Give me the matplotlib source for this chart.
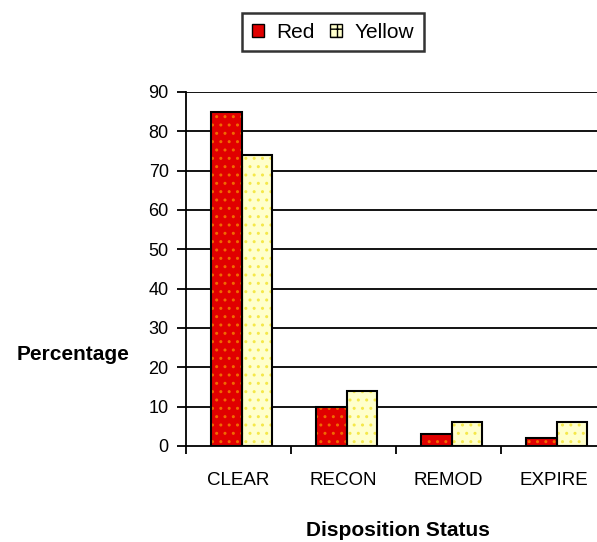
import matplotlib
matplotlib.use("Agg")
import matplotlib.pyplot as plt
from matplotlib.patches import Patch
import numpy as np

# data
categories = ["CLEAR", "RECON", "REMOD", "EXPIRE"]
red_values = [85, 10, 3, 2]
yellow_values = [74, 14, 6, 6]
y_ticks = [0, 10, 20, 30, 40, 50, 60, 70, 80, 90]

plt.rcParams['font.family'] = ['Liberation Sans', 'DejaVu Sans']
plt.rcParams['hatch.linewidth'] = 1.0

fig = plt.figure(figsize=(5.97, 5.42), dpi=100)
W, H = 597, 542
# axes box in pixels: left 186, bottom at y=446, top at y=92, 105 px per category
ax = fig.add_axes([186 / W, (H - 446) / H, 420 / W, 354 / H])

x = np.arange(len(categories))
bw = 0.29
red_x = x + 0.24
yel_x = x + 0.24 + bw

# gridlines
for t in y_ticks[1:]:
    ax.axhline(t, color="black", lw=1.3, zorder=1)

# filled bars with dotted pattern, then black outlines on top
ax.bar(red_x, red_values, bw, align="edge", color="#e00000",
       edgecolor="#f06a00", hatch="..", lw=0, zorder=2)
ax.bar(yel_x, yellow_values, bw, align="edge", color="#ffffcc",
       edgecolor="#f5e84a", hatch="..", lw=0, zorder=2)
ax.bar(red_x, red_values, bw, align="edge", fill=False,
       edgecolor="black", lw=1.5, zorder=3)
ax.bar(yel_x, yellow_values, bw, align="edge", fill=False,
       edgecolor="black", lw=1.5, zorder=3)

ax.set_xlim(0, len(categories))
ax.set_ylim(0, 90)

ax.set_yticks(y_ticks)
ax.set_yticklabels([str(t) for t in y_ticks], fontsize=13)
ax.set_xticks(x, minor=False)
ax.set_xticklabels([""] * len(x))
ax.set_xticks(x + 0.5, minor=True)
ax.set_xticklabels(categories, minor=True, fontsize=13.5)
ax.tick_params(axis="x", which="major", direction="out", length=6, width=1.3)
ax.tick_params(axis="x", which="minor", length=0, pad=19)
ax.tick_params(axis="y", direction="out", length=6.5, width=1.3, pad=6)

for side in ["top", "right"]:
    ax.spines[side].set_visible(False)
ax.spines["left"].set_linewidth(1.3)
ax.spines["bottom"].set_linewidth(1.3)

fig.text(17 / W, 1 - 355 / H, "Percentage", fontsize=15, fontweight="bold",
         ha="left", va="center")
fig.text(398 / W, 1 - 530 / H, "Disposition Status", fontsize=15,
         fontweight="bold", ha="center", va="center")

handles = [
    Patch(facecolor="#e00000", edgecolor="black", lw=1.0),
    Patch(facecolor="#ffffcc", edgecolor="black", lw=1.0, hatch="++"),
]
leg = fig.legend(handles, ["Red", "Yellow"], loc="center",
                 bbox_to_anchor=(333 / W, 1 - 32 / H), ncol=2,
                 fontsize=15, frameon=True, fancybox=False,
                 handlelength=0.6, handleheight=0.6, handletextpad=0.6,
                 columnspacing=0.7, borderpad=0.45)
leg.get_frame().set_edgecolor("black")
leg.get_frame().set_linewidth(1.8)

fig.savefig("out.png", dpi=100)
